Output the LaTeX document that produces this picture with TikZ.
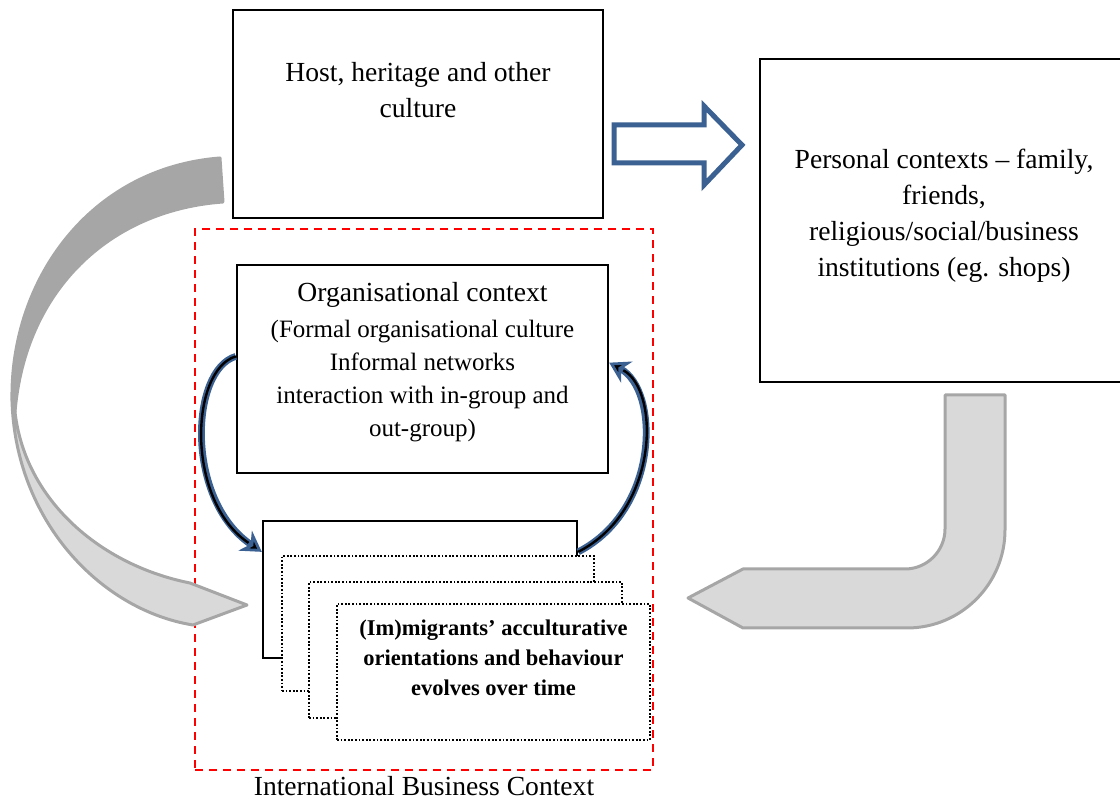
\documentclass[tikz,border=0pt]{standalone}
\usepackage{fontspec}
\setmainfont{Liberation Serif}
\usetikzlibrary{arrows.meta,calc,fit,positioning}
\definecolor{arrowblue}{HTML}{3B6192}
\definecolor{bandgray}{HTML}{A6A6A6}
\definecolor{bandpale}{HTML}{D9D9D9}
\begin{document}
\begin{tikzpicture}[x=0.5pt, y=-0.5pt,
    box/.style={draw, line width=1.2pt, fill=white, inner sep=0pt},
    dotbox/.style={box, line width=0.9pt, dash pattern=on 0.9pt off 0.9pt},
    frame/.style={draw=red, line width=1pt, dash pattern=on 4pt off 3pt, inner sep=0pt},
    txt/.style={align=center, inner sep=0pt, font=\fontsize{13.8}{18}\selectfont},
    smalltxt/.style={align=center, inner sep=0pt, font=\fontsize{12.5}{16.5}\selectfont},
    boldtxt/.style={align=center, inner sep=0pt, font=\bfseries\fontsize{11.25}{15}\selectfont},
    band/.style={draw=bandgray, line width=1.5pt, line join=round},
    linkarrow/.style={draw=arrowblue, line width=3.4pt,
      -{Stealth[length=10pt, width=12pt, fill=black, line width=1.4pt]}},
    linkcore/.style={draw=black, line width=1.2pt, shorten >=8pt}]
  \useasboundingbox (0,0) rectangle (1120,801);
  \clip (0,0) rectangle (1120,801);
  \node[frame, fit={(195,229) (653,770)}] (ibc) {};
  \node[txt, below=2.5pt of ibc.south] (ibctext) {International Business Context};
  \path[band, fill=bandgray] (220,158) .. controls (90,168) and (10,280) .. (12,400)
    -- (15,412) .. controls (25,290) and (110,210) .. (223,202) -- cycle;
  \path[band, fill=bandpale] (12,400) .. controls (15,520) and (100,610) .. (193,625)
    -- (247,605) -- (190,583) .. controls (100,565) and (25,500) .. (15,412) -- cycle;
  \path[band, fill=bandpale] (945,395) -- (1005,395) -- (1005,530)
    .. controls (1005,584) and (961,628) .. (907,628) -- (743,628) -- (688,598)
    -- (743,569) -- (905,569) .. controls (927,569) and (945,551) .. (945,529) -- cycle;
  \node[box, fit={(233,10) (603,218)}] (host) {};
  \node[txt, below=26.5pt of host.north] (hosttext) {Host, heritage and other\\culture};
  \node[box, fit={(760,59) (1128,382)}] (personal) {};
  \node[txt, below=45.5pt of personal.north] (personaltext)
    {Personal contexts -- family,\\friends,\\religious/social/business\\institutions (eg. shops)};
  \path[draw=arrowblue, fill=white, line width=2.5pt, line join=miter]
    (614,125) -- (704,125) -- (704,106) -- (742,145) -- (704,185) -- (704,163) -- (614,163) -- cycle;
  \node[box, fit={(237,265) (608,473)}] (org) {};
  \node[smalltxt, below=9pt of org.north] (orgtext)
    {{\fontsize{13.8}{18}\selectfont Organisational context}\\[1.5pt]
     (Formal organisational culture\\Informal networks\\interaction with in-group and\\out-group)};
  \node[box, fit={(263,521) (577,658)}] (stackA) {};
  \node[dotbox, fit={(282,556) (594,691)}] (stackB) {};
  \node[dotbox, fit={(309,582) (622,718)}] (stackC) {};
  \node[dotbox, fit={(337,604) (650,740)}] (stackD) {};
  \node[boldtxt, below=8pt of stackD.north] (stacktext)
    {(Im)migrants’ acculturative\\orientations and behaviour\\evolves over time};
  \draw[linkarrow] ($(org.north west)!0.44!(org.south west)$) .. controls (190,370) and (185,500) .. ($(stackA.north west)!0.23!(stackA.south west)$);
  \draw[linkcore] ($(org.north west)!0.44!(org.south west)$) .. controls (190,370) and (185,500) .. ($(stackA.north west)!0.23!(stackA.south west)$);
  \draw[linkarrow] ($(stackA.north east)!0.23!(stackA.south east)$) .. controls (660,510) and (660,390) .. ($(org.north east)!0.47!(org.south east)$);
  \draw[linkcore] ($(stackA.north east)!0.23!(stackA.south east)$) .. controls (660,510) and (660,390) .. ($(org.north east)!0.47!(org.south east)$);
\end{tikzpicture}
\end{document}
